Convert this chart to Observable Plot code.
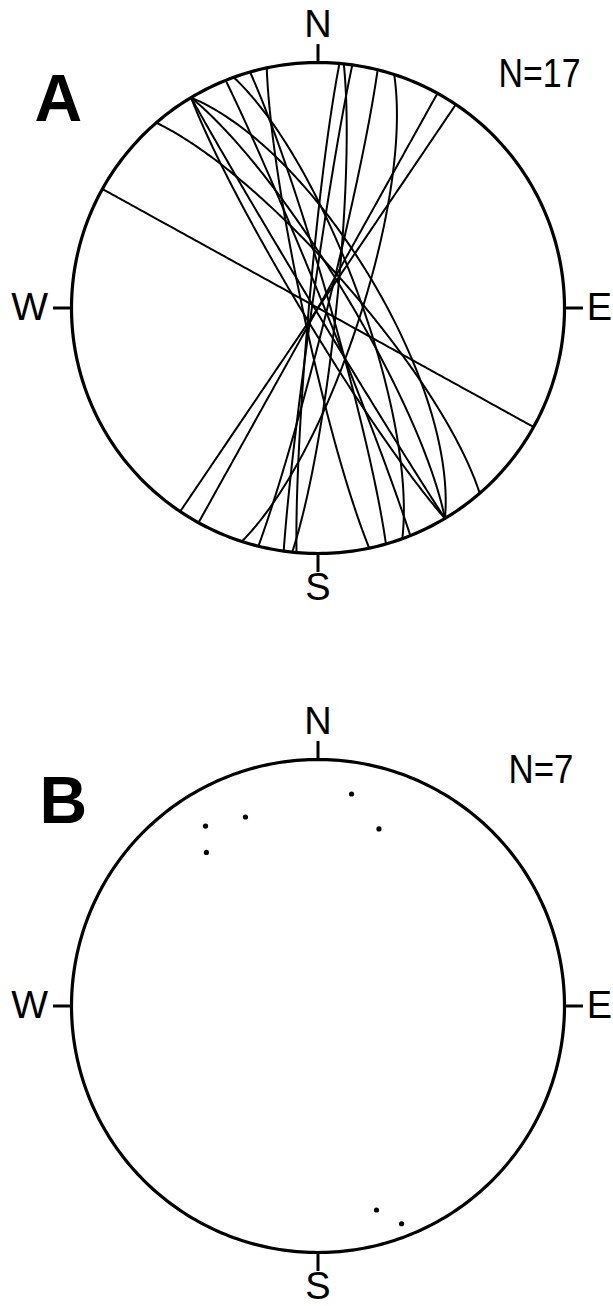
<!DOCTYPE html>
<html><head><meta charset="utf-8">
<script src="https://cdn.jsdelivr.net/npm/d3@7"></script>
<script src="https://cdn.jsdelivr.net/npm/@observablehq/plot@0.6"></script>
<style>
body{margin:0;background:#fff;}
#chart svg{display:block;}
</style>
</head><body><div id="chart"></div>
<script>
// Panel A: great circles (strike, right-hand rule, and dip in degrees)
const planeStrikes = [119, 319, 149, 149, 329, 329, 340, 338, 344, 168, 6, 185, 188, 14, 18, 29, 214];
const planeDips    = [90,  78,  89,  85,  70,  80,  76,  88,  86,  85,  84, 87, 88, 87, 76, 90, 90];
// Panel B: poles (trend, plunge in degrees)
const poleTrends   = [9, 339, 328, 19, 324, 164, 159];
const polePlunges  = [14, 19, 15, 25, 24, 15, 6];
// labels
const directions = ["N", "E", "S", "W"];
const directionAzimuths = [0, 90, 180, 270];
const panelLabels = ["A", "B"];
const countLabels = ["N=17", "N=7"];

const rad = Math.PI / 180;
// lower-hemisphere equal-area (Schmidt) projection, unit primitive circle
function project(trend, plunge) {
  const r = Math.SQRT2 * Math.sin((90 - plunge) / 2 * rad);
  return {x: r * Math.sin(trend * rad), y: r * Math.cos(trend * rad)};
}
function greatCircle(strike, dip, id) {
  const s = strike * rad, d = dip * rad, dd = (strike + 90) * rad;
  const S = [Math.sin(s), Math.cos(s), 0];
  const D = [Math.cos(d) * Math.sin(dd), Math.cos(d) * Math.cos(dd), Math.sin(d)];
  const pts = [];
  for (let t = 0; t <= 180; t += 1) {
    const c = Math.cos(t * rad), si = Math.sin(t * rad);
    const e = c * S[0] + si * D[0], n = c * S[1] + si * D[1], dn = Math.max(0, Math.min(1, c * S[2] + si * D[2]));
    const plunge = Math.asin(dn) / rad;
    const trend = Math.atan2(e, n) / rad;
    pts.push({id, ...project(trend, plunge)});
  }
  return pts;
}

const planes = planeStrikes.flatMap((s, i) => greatCircle(s, planeDips[i], i));
const poles = poleTrends.map((t, i) => project(t, polePlunges[i]));
const primitive = d3.range(0, 361, 1).map(a => project(a, 0));
const dirs = directions.map((name, i) => ({name, az: directionAzimuths[i]}));
const ticks = dirs.map(d => ({
  x1: Math.sin(d.az * rad), y1: Math.cos(d.az * rad),
  x2: 1.075 * Math.sin(d.az * rad), y2: 1.075 * Math.cos(d.az * rad)
}));

const FONT = "'Liberation Sans', Arial, Helvetica, sans-serif";

function dirLabelMarks() {
  return [
    Plot.text(dirs.filter(d => d.name === "N"), {x: d => 0, y: d => 1.105, text: "name", textAnchor: "middle", lineAnchor: "bottom", fontSize: 38, fontFamily: FONT, fill: "black"}),
    Plot.text(dirs.filter(d => d.name === "S"), {x: d => 0, y: d => -1.08, text: "name", textAnchor: "middle", lineAnchor: "top", fontSize: 38, fontFamily: FONT, fill: "black"}),
    Plot.text(dirs.filter(d => d.name === "W"), {x: d => -1.095, y: d => 0, text: "name", textAnchor: "end", lineAnchor: "middle", fontSize: 39, fontFamily: FONT, fill: "black"}),
    Plot.text(dirs.filter(d => d.name === "E"), {x: d => 1.09, y: d => 0, text: "name", textAnchor: "start", lineAnchor: "middle", fontSize: 38, fontFamily: FONT, fill: "black"})
  ];
}

function frameMarks() {
  return [
    Plot.line(primitive, {x: "x", y: "y", stroke: "black", strokeWidth: 3.2}),
    Plot.link(ticks, {x1: "x1", y1: "y1", x2: "x2", y2: "y2", stroke: "black", strokeWidth: 3}),
    ...dirLabelMarks()
  ];
}

const common = {
  width: 613, height: 653,
  marginLeft: 71, marginRight: 49,
  x: {domain: [-1, 1], axis: null},
  y: {domain: [-1, 1], axis: null},
  style: {background: "white", overflow: "visible"}
};

const plotA = Plot.plot({
  ...common,
  marginTop: 62, marginBottom: 100,
  marks: [
    Plot.line(planes, {x: "x", y: "y", z: "id", stroke: "black", strokeWidth: 2, curve: "linear"}),
    ...frameMarks(),
    Plot.text([panelLabels[0]], {frameAnchor: "top-left", dx: -37, dy: 58, textAnchor: "start", lineAnchor: "bottom", fontSize: 66, fontWeight: "bold", fontFamily: FONT, fill: "black"}),
    Plot.text([countLabels[0]], {frameAnchor: "top-left", dx: 427, dy: 24, textAnchor: "start", lineAnchor: "bottom", fontSize: 40, fontFamily: FONT, fill: "black"})
  ]
});

const plotB = Plot.plot({
  ...common,
  marginTop: 106, marginBottom: 54,
  marks: [
    Plot.dot(poles, {x: "x", y: "y", r: 2.6, fill: "black", stroke: null}),
    ...frameMarks(),
    Plot.text([panelLabels[1]], {frameAnchor: "top-left", dx: -32, dy: 63, textAnchor: "start", lineAnchor: "bottom", fontSize: 66, fontWeight: "bold", fontFamily: FONT, fill: "black"}),
    Plot.text([countLabels[1]], {frameAnchor: "top-left", dx: 437, dy: 23, textAnchor: "start", lineAnchor: "bottom", fontSize: 40, fontFamily: FONT, fill: "black"})
  ]
});

// condense the count labels to the reference's narrow lettering
const narrow = {"N=17": 82, "N=7": 65};
for (const p of [plotA, plotB]) {
  d3.select(p).selectAll("text").each(function() {
    const w = narrow[this.textContent];
    if (w) d3.select(this).attr("textLength", w).attr("lengthAdjust", "spacingAndGlyphs");
  });
}

document.getElementById("chart").append(plotA, plotB);
</script>
</body></html>
